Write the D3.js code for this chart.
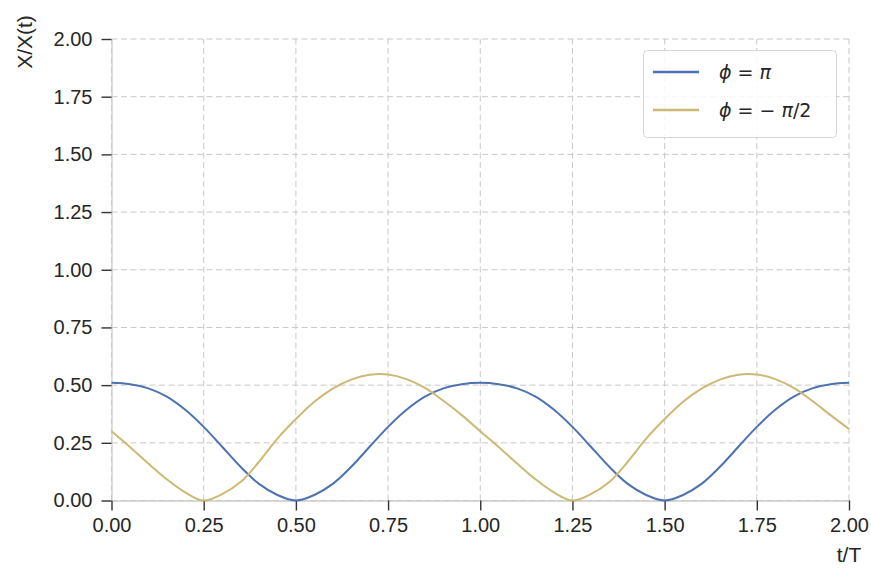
<!DOCTYPE html>
<html>
<head>
<meta charset="utf-8">
<script src="https://cdn.jsdelivr.net/npm/d3@7"></script>
<style>
  body { margin: 0; background: #fff; }
  text { font-family: "Liberation Sans", Arial, sans-serif; fill: #262626; }
  .math { font-family: "DejaVu Sans", sans-serif; }
</style>
</head>
<body>
<svg width="871" height="569"></svg>
<script>
// t/T sample points
let tValues = [0, 0.05, 0.1, 0.15, 0.2, 0.25, 0.3, 0.35, 0.4, 0.45,
  0.5, 0.55, 0.6, 0.65, 0.7, 0.75, 0.8, 0.85, 0.9, 0.95,
  1.0, 1.05, 1.1, 1.15, 1.2, 1.25, 1.3, 1.35, 1.4, 1.45,
  1.5, 1.55, 1.6, 1.65, 1.7, 1.75, 1.8, 1.85, 1.9, 1.95, 2.0];

// phi = pi
let phiPi = [0.51, 0.504, 0.486, 0.45, 0.393, 0.319, 0.233, 0.146, 0.072, 0.024,
  0.0, 0.024, 0.072, 0.146, 0.233, 0.319, 0.393, 0.45, 0.486, 0.504,
  0.51, 0.504, 0.486, 0.45, 0.393, 0.319, 0.233, 0.146, 0.072, 0.024,
  0.0, 0.024, 0.072, 0.146, 0.233, 0.319, 0.393, 0.45, 0.486, 0.504, 0.51];

// phi = -pi/2
let phiHalfPi = [0.30, 0.232, 0.16, 0.092, 0.035, 0.0, 0.028, 0.08, 0.168, 0.268,
  0.353, 0.428, 0.485, 0.524, 0.545, 0.546, 0.526, 0.488, 0.432, 0.37,
  0.30, 0.232, 0.16, 0.092, 0.035, 0.0, 0.028, 0.08, 0.168, 0.268,
  0.353, 0.428, 0.485, 0.524, 0.545, 0.546, 0.526, 0.488, 0.432, 0.37, 0.31];

let tickValues = [0, 0.25, 0.5, 0.75, 1.0, 1.25, 1.5, 1.75, 2.0];
let seriesColors = ["#4c72b0", "#ccb974"];

function drawChart() {
  let svg = d3.select("svg");

  let x = d3.scaleLinear().domain([0, 2]).range([111.5, 849]);
  let y = d3.scaleLinear().domain([0, 2]).range([500.5, 39]);

  // dashed grid
  let grid = svg.append("g")
    .style("stroke", "#c8c8c8")
    .style("stroke-width", 1)
    .style("stroke-dasharray", "6,3.5");
  grid.selectAll("line.v")
    .data(tickValues)
    .join("line")
    .attr("class", "v")
    .attr("x1", d => x(d)).attr("x2", d => x(d))
    .attr("y1", y(0)).attr("y2", y(2));
  grid.selectAll("line.h")
    .data(tickValues)
    .join("line")
    .attr("class", "h")
    .attr("x1", x(0)).attr("x2", x(2))
    .attr("y1", d => y(d)).attr("y2", d => y(d));

  let fmt = d3.format(".2f");

  let xAxis = svg.append("g")
    .attr("transform", `translate(0, ${y(0)})`)
    .call(d3.axisBottom(x).tickValues(tickValues).tickFormat(fmt).tickSize(10).tickSizeOuter(0).tickPadding(7));
  let yAxis = svg.append("g")
    .attr("transform", `translate(${x(0)}, 0)`)
    .call(d3.axisLeft(y).tickValues(tickValues).tickFormat(fmt).tickSize(10).tickSizeOuter(0).tickPadding(9));

  [xAxis, yAxis].forEach(ax => {
    ax.select(".domain").style("stroke", "#cccccc").style("stroke-width", 1.3);
    ax.selectAll(".tick line").style("stroke", "#333").style("stroke-width", 1.4);
    ax.selectAll(".tick text")
      .style("font-family", "Liberation Sans, Arial, sans-serif")
      .style("font-size", "20px")
      .style("fill", "#262626");
  });

  // curves
  let line = d3.line()
    .x((d, i) => x(tValues[i]))
    .y(d => y(d))
    .curve(d3.curveCatmullRom.alpha(0.5));

  svg.append("g")
    .selectAll("path")
    .data([phiPi, phiHalfPi])
    .join("path")
    .attr("d", d => line(d))
    .style("fill", "none")
    .style("stroke", (d, i) => seriesColors[i])
    .style("stroke-width", 2);

  // axis labels
  svg.append("text")
    .attr("transform", "translate(32, 42) rotate(-90)")
    .attr("text-anchor", "middle")
    .style("font-size", "21px")
    .text("X/X(t)");
  svg.append("text")
    .attr("x", x(2))
    .attr("y", 562)
    .attr("text-anchor", "middle")
    .style("font-size", "21px")
    .text("t/T");

  // legend
  let legend = svg.append("g");
  legend.append("rect")
    .attr("x", 643.5).attr("y", 50.5)
    .attr("width", 193).attr("height", 87)
    .attr("rx", 4)
    .style("fill", "#fff").style("fill-opacity", 0.85)
    .style("stroke", "#d6d6d6");

  let labels = [["ϕ", " = ", "π"], ["ϕ", " = − ", "π", "/2"]];
  let rows = legend.selectAll("g.row")
    .data(labels)
    .join("g")
    .attr("class", "row")
    .attr("transform", (d, i) => `translate(0, ${72 + i * 38})`);
  rows.append("line")
    .attr("x1", 653).attr("x2", 699)
    .style("stroke", (d, i) => seriesColors[i])
    .style("stroke-width", 2.5);
  rows.append("text")
    .attr("class", "math")
    .attr("x", 719)
    .attr("y", 7)
    .style("font-size", "19px")
    .selectAll("tspan")
    .data(d => d)
    .join("tspan")
    .style("font-style", p => (p === "ϕ" || p === "π") ? "italic" : "normal")
    .attr("xml:space", "preserve")
    .text(p => p);
}

drawChart();
</script>
</body>
</html>
